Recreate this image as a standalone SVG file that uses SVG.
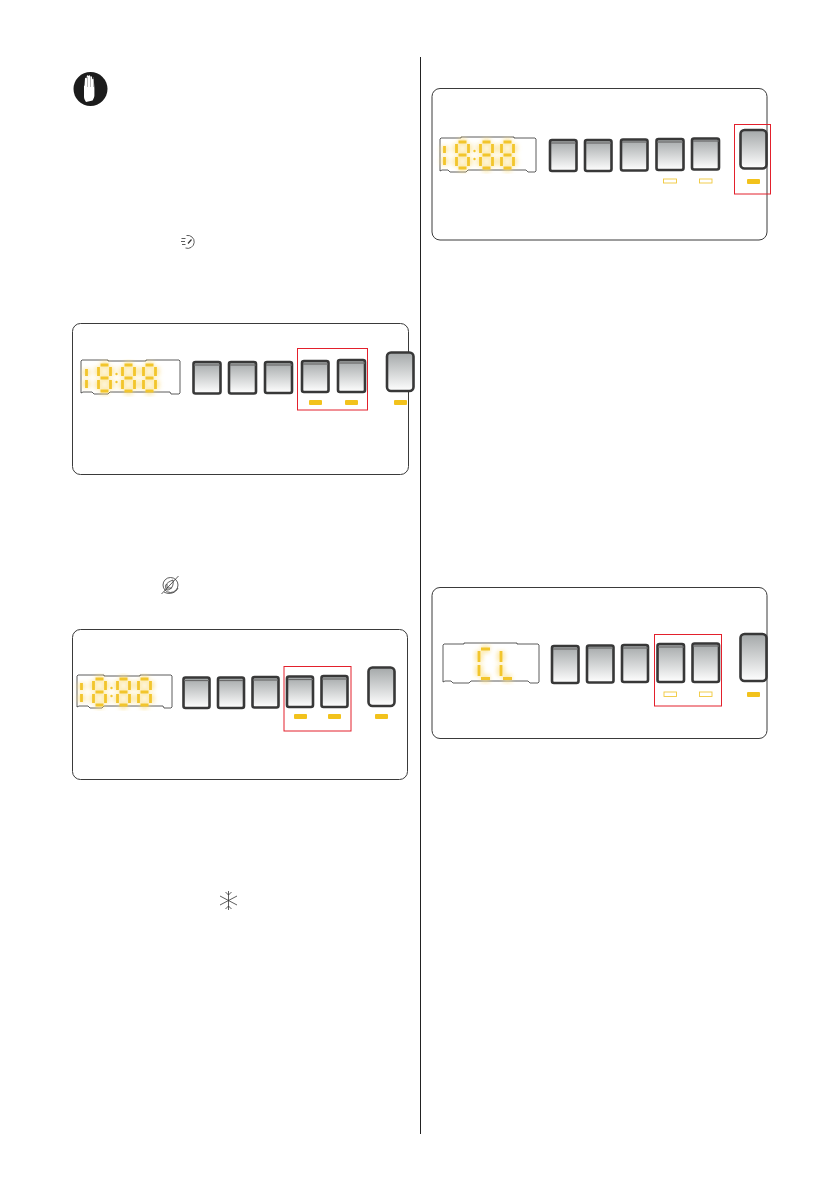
<svg xmlns="http://www.w3.org/2000/svg" width="839" height="1191" viewBox="0 0 839 1191">
<style>
.panel{fill:#fff;stroke:#3a3a3a;stroke-width:1}
.btn{fill:url(#g);stroke:#383838;stroke-width:2.6}
.top{fill:none;stroke:#6a6a6a;stroke-width:1.2}
.red{fill:none;stroke:#e3202c;stroke-width:1}
.led{fill:#f2c21a;filter:url(#soft)}
.hollow{fill:#fff;stroke:#f0c83c;stroke-width:.9}
.disp{fill:#fff;stroke:#333;stroke-width:.8}
.seg{stroke:#f2c52c;stroke-width:2.800;fill:none}
.halo{stroke:#fbdc78;stroke-width:8;fill:none;filter:url(#blur);opacity:.6}
.ic{fill:none;stroke:#333;stroke-width:.8}
</style>
<defs>
<linearGradient id="g" x1="0" y1="0" x2="0" y2="1"><stop offset="0" stop-color="#a4a8a9"/><stop offset="1" stop-color="#fff"/></linearGradient>
<filter id="blur" x="-20%" y="-20%" width="140%" height="140%"><feGaussianBlur stdDeviation="2"/></filter>
<filter id="soft" x="-30%" y="-60%" width="160%" height="220%"><feGaussianBlur stdDeviation=".5"/></filter>
<path id="d8" d="M2.500 0H10.500M0.500 2V11M12.500 2V11M2.500 13H10.500M0.500 15V24M12.500 15V24M2.500 26H10.500"/>
<path id="d1" d="M0.500 4V11M0.500 15V23"/>
<g id="clock">
<g class="halo"><use href="#d1"/><use href="#d8" x="12"/><use href="#d8" x="36"/><use href="#d8" x="57"/></g>
<g class="seg"><use href="#d1"/><use href="#d8" x="12"/><use href="#d8" x="36"/><use href="#d8" x="57"/></g>
<circle cx="30.500" cy="9" r="1.200" fill="#f2c52c"/><circle cx="30.500" cy="17" r="1.200" fill="#f2c52c"/>
</g>
</defs>
<rect width="839" height="1191" fill="#fff"/>
<g id="divider"><line x1="420.500" y1="57" x2="420.500" y2="1134" stroke="#222" stroke-width="1"/></g>
<g id="hand-icon"><circle cx="90.500" cy="89" r="17" fill="#1c1c1c"/><path d="M86 102c-1-2-2-3-2-5V86l.5-.5.500-7c0-1 1.500-1 1.600 0l.2-2.500c0-1 1.500-1 1.600 0h.2c0-1 1.500-1 1.600 0l.2 1c0-1 1.500-1 1.600 0l.3 2.500c0-1 1.400-1 1.500 0l.6 9v7c0 2-1 3-1.800 5z" fill="#fff"/><path d="M87.500 77v10M90.500 76v11M93.500 77v10" stroke="#777" stroke-width=".5"/></g>
<g id="icon-speed" class="ic"><path d="M186.500 235.500a6.500 6.500 0 1 1 -1 12.500M181.500 238.500h4M181 241.500h4M182 244.500h3.500"/><path d="M188 243.500l3.500-4" stroke-width="1.200"/></g>
<g id="icon-eco" class="ic"><circle cx="170.500" cy="585" r="7.500"/><path d="M167 590c-3-3-2-7 6-10 1 6-2 10-6 10zM161.500 594L178.500 576M167 584v4h5M164 592c5 3 12 1 14-4"/></g>
<g id="icon-snow" class="ic"><path d="M228.500 891V910M220 896L237 905M220 905L237 896M225.500 892l3 3 3-3M225.500 909l3-3 3 3"/></g>

<g id="panel-1">
<rect class="panel" x="72.500" y="323.500" width="336" height="151" rx="8"/>
<path class="disp" d="M81 361l1-1H108v1H146V360H179l1 1V393l-1 1H171l-1-2H110l-2 2H94l-2-2H83l-2 1z"/>
<use href="#clock" x="86" y="365"/>
<rect class="btn" x="193.500" y="362" width="27" height="31.500" rx="2"/><path class="top" d="M194 365H220"/>
<rect class="btn" x="229" y="362" width="27" height="31.500" rx="2"/><path class="top" d="M230 365H256"/>
<rect class="btn" x="265" y="362" width="27" height="31" rx="2"/><path class="top" d="M266 365H292"/>
<rect class="btn" x="302" y="361" width="26.500" height="31" rx="2"/><path class="top" d="M303 364H328"/>
<rect class="btn" x="338" y="360" width="27" height="32" rx="2"/><path class="top" d="M339 363H365"/>
<rect class="btn" x="387" y="352.500" width="26.500" height="38.500" rx="4"/>
<rect class="red" x="297.500" y="348.500" width="70" height="61.500"/>
<rect class="led" x="309" y="400" width="13" height="5" rx="1"/><rect class="led" x="345" y="400" width="13" height="5" rx="1"/><rect class="led" x="394" y="400" width="13" height="5" rx="1"/>
</g>

<g id="panel-2">
<rect class="panel" x="72.500" y="629.500" width="335" height="150" rx="8"/>
<path class="disp" d="M77 676l1-1H104v1H140V675H171l1 1V707l-1 1H164l-1-2H104l-2 2H90l-2-2H79l-2 1z"/>
<use href="#clock" x="81" y="679"/>
<rect class="btn" x="183.500" y="677.500" width="26" height="30.500" rx="2"/><path class="top" d="M184 680.500H209"/>
<rect class="btn" x="218" y="677.500" width="26" height="30.500" rx="2"/><path class="top" d="M219 680.500H243"/>
<rect class="btn" x="252.500" y="677" width="26" height="30.500" rx="2"/><path class="top" d="M253 680H278"/>
<rect class="btn" x="287" y="676.500" width="26" height="30.500" rx="2"/><path class="top" d="M288 679.500H313"/>
<rect class="btn" x="321.500" y="676" width="26" height="31" rx="2"/><path class="top" d="M322 679H347"/>
<rect class="btn" x="368.500" y="667.500" width="26" height="38.500" rx="4"/>
<rect class="red" x="284" y="666.500" width="67" height="64.500"/>
<rect class="led" x="294" y="714" width="13" height="5" rx="1"/><rect class="led" x="328" y="714" width="13" height="5" rx="1"/><rect class="led" x="375" y="714" width="13" height="5" rx="1"/>
</g>

<g id="panel-3">
<rect class="panel" x="432" y="88.500" width="335" height="151.500" rx="8"/>
<path class="disp" d="M440 139l1-1H461v-1H514v1H535l1 1V171l-1 1H528l-2-2H468l-2 2H450l-2-2H442l-2 1z"/>
<use href="#clock" x="444" y="142"/>
<rect class="btn" x="550" y="140" width="26.500" height="31" rx="2"/><path class="top" d="M551 143H576"/>
<rect class="btn" x="585" y="140" width="26.500" height="31" rx="2"/><path class="top" d="M586 143H611"/>
<rect class="btn" x="621" y="139.500" width="26.500" height="31" rx="2"/><path class="top" d="M622 142H647"/>
<rect class="btn" x="656.500" y="139" width="27" height="31" rx="2"/><path class="top" d="M657 142H683"/>
<rect class="btn" x="692" y="138.500" width="27" height="31" rx="2"/><path class="top" d="M693 141H719"/>
<rect class="btn" x="740.500" y="130" width="26" height="38.500" rx="4"/>
<rect class="red" x="734.500" y="124.500" width="36" height="69.500"/>
<rect class="hollow" x="663.500" y="179" width="13" height="4"/><rect class="hollow" x="699.500" y="179" width="12.500" height="4"/><rect class="led" x="747" y="179" width="13" height="5" rx="1"/>
</g>

<g id="panel-4">
<rect class="panel" x="432" y="587.500" width="335" height="151" rx="8"/>
<path class="disp" d="M443 645l1-1H464v-1H517v1H538l1 1V682l-1 1H530l-2-2H471l-2 2H453l-2-2H445l-2 1z"/>
<path class="halo" d="M481 649H490M479 651V662M479 665V676M481 678.500H490M501 651V662M501 665V676M503 678.500H512"/>
<path class="seg" d="M481 649H490M479 651V662M479 665V676M481 678.500H490M501 651V662M501 665V676M503 678.500H512"/>
<rect class="btn" x="552" y="646" width="26.500" height="37" rx="2"/><path class="top" d="M553 649H578"/>
<rect class="btn" x="587" y="645.500" width="26.500" height="37" rx="2"/><path class="top" d="M588 648H613"/>
<rect class="btn" x="622" y="645" width="26" height="37" rx="2"/><path class="top" d="M623 648H648"/>
<rect class="btn" x="657.500" y="644" width="26.500" height="38" rx="2"/><path class="top" d="M658 647H684"/>
<rect class="btn" x="692.500" y="643.500" width="26.500" height="38.500" rx="2"/><path class="top" d="M693 646H719"/>
<rect class="btn" x="740.500" y="634" width="26" height="47" rx="4"/>
<rect class="red" x="654.500" y="634.500" width="67" height="71.500"/>
<rect class="hollow" x="664" y="692" width="12.500" height="4.500"/><rect class="hollow" x="699.500" y="692" width="12.500" height="4.500"/><rect class="led" x="747" y="692" width="13" height="5" rx="1"/>
</g>
</svg>
